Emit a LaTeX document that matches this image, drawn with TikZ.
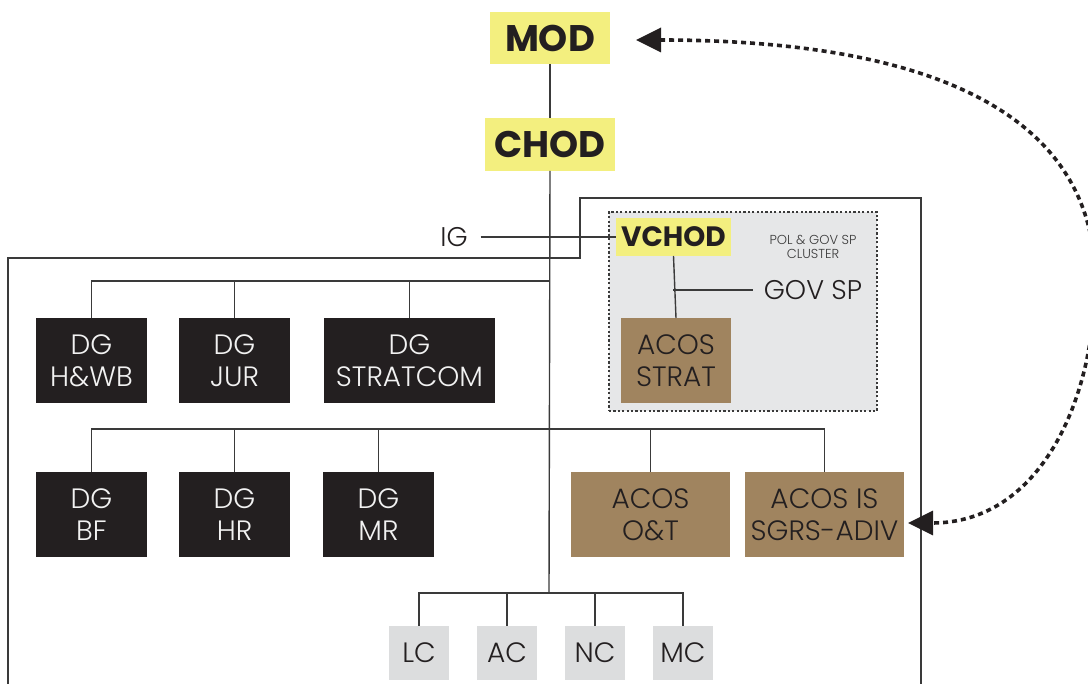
\documentclass[tikz,border=0pt]{standalone}
\usepackage{fontspec}
\setmainfont{Poppins}
\newfontfamily\lightfont{Poppins}[UprightFont=* Light, BoldFont=* SemiBold]
\usetikzlibrary{arrows.meta}
\definecolor{ylw}{HTML}{F3EF7F}
\definecolor{ink}{HTML}{231F20}
\definecolor{brn}{HTML}{A0845F}
\definecolor{clgray}{HTML}{E6E7E8}
\definecolor{lcgray}{HTML}{DCDDDE}
\definecolor{ln}{HTML}{3A3A3A}
\definecolor{wtxt}{HTML}{F2F2F2}
\begin{document}
\begin{tikzpicture}[x=1pt,y=-1pt,
  every node/.style={inner sep=0pt, outer sep=0pt, align=center},
  ybox/.style={fill=ylw, text=ink, font=\bfseries\fontsize{37}{40}\selectfont},
  dgbox/.style={fill=ink, text=wtxt, minimum width=111pt, minimum height=85pt, font=\lightfont\fontsize{28}{32}\selectfont},
  acbox/.style={fill=brn, text=ink, minimum height=85pt, font=\lightfont\fontsize{28}{32}\selectfont},
  cbox/.style={fill=lcgray, text=ink, minimum width=60pt, minimum height=54pt, font=\lightfont\fontsize{28}{30}\selectfont},
  conn/.style={draw=ln, line width=1.4pt},
  frameline/.style={draw=ln, line width=1.8pt},
  cluster/.style={fill=clgray, draw=ln, line width=1.5pt, dash pattern=on 2.2pt off 2.2pt},
  dotarrow/.style={draw=ink, line width=3.6pt, dash pattern=on 5pt off 4pt,
    {Triangle[length=25pt,width=24pt]}-{Triangle[length=25pt,width=24pt]}},
  lbl/.style={text=ink, font=\lightfont\fontsize{27}{30}\selectfont}
]
\useasboundingbox (0,0) rectangle (1088,684);
\clip (0,0) rectangle (1088,684);

% frame
\draw[frameline] (8,700) -- (8,258) -- (580,258) -- (580,198) -- (921,198) -- (921,700);

% cluster
\node[cluster, minimum width=268pt, minimum height=199pt] (cl) at (743,311.5) {};

% top nodes
\node[ybox, minimum width=120pt, minimum height=52pt] (mod) at (550,38) {MOD};
\node[ybox, minimum width=130pt, minimum height=53pt] (chod) at (550,144.5) {CHOD};
\node[ybox, font=\bfseries\fontsize{28}{30}\selectfont, minimum width=115pt, minimum height=38pt] (vchod) at (673.5,237) {VCHOD};
\node[text=ln, font=\lightfont\fontsize{13}{14}\selectfont] (pol) at (813,246.5) {POL \& GOV SP\\CLUSTER};
\node[lbl] (gov) at (813,290) {GOV SP};
\node[lbl] (ig) at (454,237) {IG};
\node[acbox, minimum width=110pt] (strat) at (676,360.5) {ACOS\\STRAT};

% DG row 1
\node[dgbox] (hwb) at (91.5,360.5) {DG\\H\&WB};
\node[dgbox] (jur) at (234.5,360.5) {DG\\JUR};
\node[dgbox, minimum width=171pt] (stratcom) at (409.5,360.5) {DG\\STRATCOM};

% row 2
\node[dgbox] (bf) at (91.5,514.5) {DG\\BF};
\node[dgbox] (hr) at (234.5,514.5) {DG\\HR};
\node[dgbox] (mr) at (378.5,514.5) {DG\\MR};
\node[acbox, minimum width=159pt] (ot) at (650.5,514.5) {ACOS\\O\&T};
\node[acbox, minimum width=159pt] (is) at (824.5,514.5) {ACOS IS\\SGRS-ADIV};

% components
\node[cbox] (lc) at (419,653) {LC};
\node[cbox] (ac) at (507,653) {AC};
\node[cbox] (nc) at (595,653) {NC};
\node[cbox] (mc) at (683,653) {MC};

% junction coordinates
\coordinate (bus1) at (549,281);
\coordinate (bus2) at (549,429);
\coordinate (bus3) at (549,593);
\coordinate (vj) at (673,290);

% trunk
\draw[conn] (mod) -- (chod);
\draw[conn] (chod.south) -- (bus3);

% bus 1
\draw[conn] (bus1) -| (hwb.north);
\draw[conn] (bus1) -| (jur.north);
\draw[conn] (bus1) -| (stratcom.north);

% bus 2
\draw[conn] (bus2) -| (bf.north);
\draw[conn] (bus2) -| (hr.north);
\draw[conn] (bus2) -| (mr.north);
\draw[conn] (bus2) -| (ot.north);
\draw[conn] (bus2) -| (is.north);

% bus 3
\draw[conn] (bus3) -| (lc.north);
\draw[conn] (bus3) -| (ac.north);
\draw[conn] (bus3) -| (nc.north);
\draw[conn] (bus3) -| (mc.north);

% IG and VCHOD
\draw[conn] ([xshift=13pt]ig.east) -- (vchod.west);
\draw[conn] (vchod.south) -- (strat.north);
\draw[conn] (vj) -- ([xshift=-11pt]gov.west);

% dotted arrow
\coordinate (modtip) at (636,40);
\coordinate (istip) at (908,523);
\draw[dotarrow] (modtip) .. controls (960,40) and (1095,130) .. (1095,280)
  .. controls (1095,400) and (1040,523) .. (istip);
\end{tikzpicture}
\end{document}
